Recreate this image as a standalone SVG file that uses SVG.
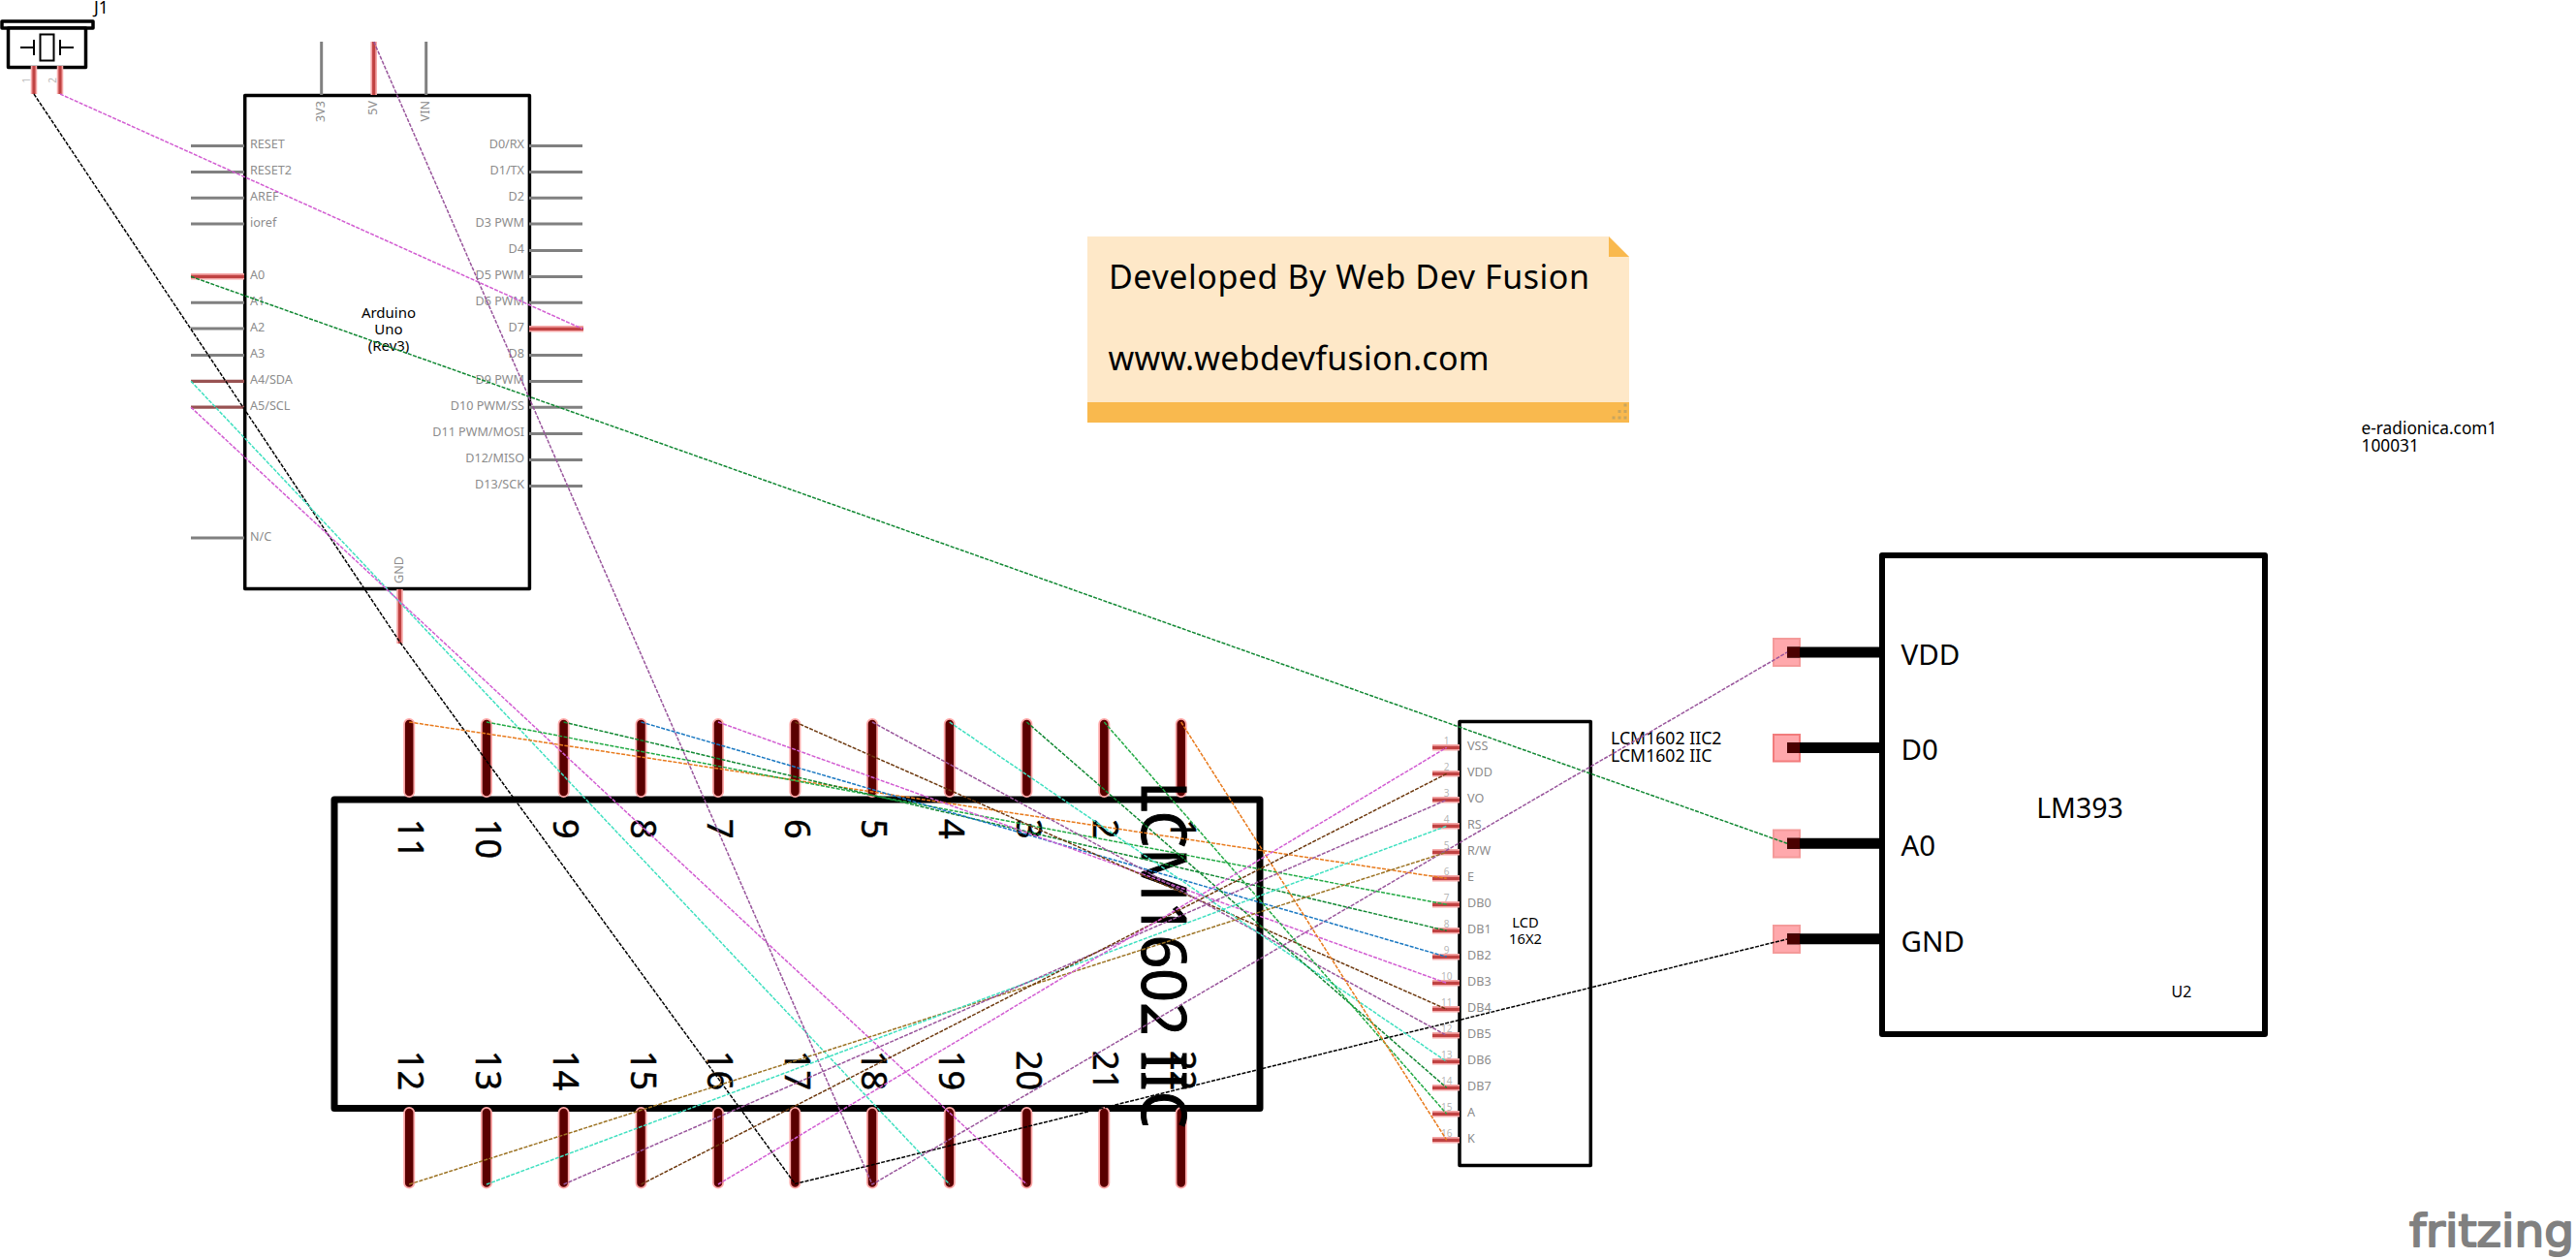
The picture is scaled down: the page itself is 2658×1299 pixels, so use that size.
<svg xmlns="http://www.w3.org/2000/svg" width="2658" height="1299" viewBox="0 0 2658 1299">
<style>
text{font-family:"Noto Sans","Open Sans","DejaVu Sans",sans-serif;fill:#000}
.box{fill:#fff;stroke:#000;stroke-linejoin:round}
.pg{stroke:#808080;stroke-width:3}
.ph{stroke:#f5a8a8;stroke-width:6.5}
.pr{stroke:#c04242;stroke-width:3.2}
.pd{stroke:#985252;stroke-width:3.2}
.iph{stroke:#ffa8a8;stroke-width:12;stroke-linecap:round}
.ipc{stroke:#5a0000;stroke-width:8.5;stroke-linecap:round}
.lbl{font-size:12.6px;fill:#8c8c8c}
.num{font-size:10px;fill:#b8b8b8;text-anchor:middle}
.pinlbl{font-size:36px;stroke:#000;stroke-width:.5}
.sm{font-size:17.7px}
.mid{text-anchor:middle}
.big{font-size:29.5px}
.sq{fill:#ffa8ac;stroke:#f49a9a;stroke-width:2}
.tm{stroke:#000;stroke-width:11}
.tmc{fill:#4a0000}
.w{fill:none;stroke-width:1.5;stroke-dasharray:4 1.4}
.mag{stroke:#d25dd2}.grn{stroke:#118833}.lgr{stroke:#22aa44}.blk{stroke:#000}.cyn{stroke:#3fe0c0}.pur{stroke:#99569c}.org{stroke:#e87a1c}.blu{stroke:#1a78c2}.brn{stroke:#6e3a10}.tan{stroke:#9c7324}
</style>
<g id="note">
<path d="M1122 244H1660L1681 265V436H1122Z" fill="#fee8c8"/>
<path d="M1660 244L1681 265H1660Z" fill="#f9b94e"/>
<rect x="1122" y="415" width="559" height="21" fill="#f9b94e"/>
<g fill="#c9a55d"><rect x="1675.500" y="416.500" width="3" height="3"/><rect x="1669.500" y="423" width="3" height="3"/><rect x="1675.500" y="423" width="3" height="3"/><rect x="1663.500" y="429.500" width="3" height="3"/><rect x="1669.500" y="429.500" width="3" height="3"/><rect x="1675.500" y="429.500" width="3" height="3"/></g>
<text x="1144" y="297.500" font-size="34" textLength="496" lengthAdjust="spacing">Developed By Web Dev Fusion</text>
<text x="1143.500" y="381.500" font-size="34" textLength="393" lengthAdjust="spacing">www.webdevfusion.com</text>
</g>
<g id="J1">
<rect x="2" y="22" width="94" height="7" class="box" stroke-width="3.500"/>
<rect x="8.500" y="29" width="80" height="40.500" class="box" stroke-width="3.500"/>
<rect x="41.500" y="35.500" width="14" height="27" fill="none" stroke="#000" stroke-width="2"/>
<path d="M21 49H35M35 41V57M62 41V57M62 49H76" fill="none" stroke="#000" stroke-width="2"/>
<path d="M35 68V97M62 68V97" class="ph"/><path d="M35 68V97M62 68V97" class="pr"/>
<text x="97" y="13.500" font-size="17.500">J1</text>
<text class="num" transform="translate(31 83) rotate(-90)">1</text>
<text class="num" transform="translate(58 83) rotate(-90)">2</text>
</g>
<g id="Arduino">
<rect x="252.700" y="98.500" width="293.700" height="509" class="box" stroke-width="3.500"/>
<path d="M197 150.500H252M197 177.400H252M197 204.200H252M197 231.100H252M197 312.200H252M197 339.100H252M197 366.400H252M197 555H252M546 150.500H601M546 177.400H601M546 204.200H601M546 231.100H601M546 258.500H601M546 285.500H601M546 312.300H601M546 366.400H601M546 393.400H601M546 420.200H601M546 447.400H601M546 474.500H601M546 501.500H601M331.700 43V98M439.700 43V98" class="pg"/>
<path d="M197 393.300H252M197 420.200H252" class="pd"/>
<path d="M197 285.300H252M546 339.300H602M385.700 43V98M412.500 608V664" class="ph"/>
<path d="M197 285.300H252M546 339.300H602M385.700 43V98M412.500 608V664" class="pr"/>
<g class="lbl">
<text class="lbl" x="258" y="153">RESET</text><text class="lbl" x="258" y="180">RESET2</text><text class="lbl" x="258" y="206.800">AREF</text><text class="lbl" x="258" y="233.700">ioref</text><text class="lbl" x="258" y="287.900">A0</text><text class="lbl" x="258" y="314.800">A1</text><text class="lbl" x="258" y="341.700">A2</text><text class="lbl" x="258" y="369">A3</text><text class="lbl" x="258" y="395.900">A4/SDA</text><text class="lbl" x="258" y="422.800">A5/SCL</text><text class="lbl" x="258" y="557.600">N/C</text>
<g text-anchor="end"><text class="lbl" x="541" y="153">D0/RX</text><text class="lbl" x="541" y="180">D1/TX</text><text class="lbl" x="541" y="206.800">D2</text><text class="lbl" x="541" y="233.700">D3 PWM</text><text class="lbl" x="541" y="261">D4</text><text class="lbl" x="541" y="288">D5 PWM</text><text class="lbl" x="541" y="314.900">D6 PWM</text><text class="lbl" x="541" y="341.900">D7</text><text class="lbl" x="541" y="369">D8</text><text class="lbl" x="541" y="396">D9 PWM</text><text class="lbl" x="541" y="422.800">D10 PWM/SS</text><text class="lbl" x="541" y="450">D11 PWM/MOSI</text><text class="lbl" x="541" y="477">D12/MISO</text><text class="lbl" x="541" y="504">D13/SCK</text></g>
<g text-anchor="end"><text class="lbl" transform="translate(335 104) rotate(-90)">3V3</text><text class="lbl" transform="translate(389 104) rotate(-90)">5V</text><text class="lbl" transform="translate(443 104) rotate(-90)">VIN</text></g>
<text class="lbl" transform="translate(416 602) rotate(-90)">GND</text>
</g>
<text class="mid" x="401" y="328" font-size="15">Arduino</text><text class="mid" x="401" y="345" font-size="15">Uno</text><text class="mid" x="401" y="362" font-size="15">(Rev3)</text>
</g>
<g id="LCM1602">
<rect x="345" y="825" width="955" height="318.500" class="box" stroke-width="7"/>
<path d="M422.200 747V817M502 747V817M581.600 747V817M661.500 747V817M741 747V817M820.400 747V817M900 747V817M979.800 747V817M1059.400 747V817M1139.300 747V817M1218.700 747V817M422.200 1148V1220.500M502 1148V1220.500M581.600 1148V1220.500M661.500 1148V1220.500M741 1148V1220.500M820.400 1148V1220.500M900 1148V1220.500M979.800 1148V1220.500M1059.400 1148V1220.500M1139.300 1148V1220.500M1218.700 1148V1220.500" class="iph"/>
<path d="M422.200 747V817M502 747V817M581.600 747V817M661.500 747V817M741 747V817M820.400 747V817M900 747V817M979.800 747V817M1059.400 747V817M1139.300 747V817M1218.700 747V817M422.200 1148V1220.500M502 1148V1220.500M581.600 1148V1220.500M661.500 1148V1220.500M741 1148V1220.500M820.400 1148V1220.500M900 1148V1220.500M979.800 1148V1220.500M1059.400 1148V1220.500M1139.300 1148V1220.500M1218.700 1148V1220.500" class="ipc"/>
<text class="pinlbl" transform="translate(411 845) rotate(90)">11</text><text class="pinlbl" transform="translate(491 845) rotate(90)">10</text><text class="pinlbl" transform="translate(571 845) rotate(90)">9</text><text class="pinlbl" transform="translate(651 845) rotate(90)">8</text><text class="pinlbl" transform="translate(730 845) rotate(90)">7</text><text class="pinlbl" transform="translate(810 845) rotate(90)">6</text><text class="pinlbl" transform="translate(889 845) rotate(90)">5</text><text class="pinlbl" transform="translate(969 845) rotate(90)">4</text><text class="pinlbl" transform="translate(1049 845) rotate(90)">3</text><text class="pinlbl" transform="translate(1128 845) rotate(90)">2</text><text class="pinlbl" transform="translate(1208 845) rotate(90)">1</text>
<text class="pinlbl" transform="translate(411 1084) rotate(90)">12</text><text class="pinlbl" transform="translate(491 1084) rotate(90)">13</text><text class="pinlbl" transform="translate(571 1084) rotate(90)">14</text><text class="pinlbl" transform="translate(651 1084) rotate(90)">15</text><text class="pinlbl" transform="translate(730 1084) rotate(90)">16</text><text class="pinlbl" transform="translate(810 1084) rotate(90)">17</text><text class="pinlbl" transform="translate(889 1084) rotate(90)">18</text><text class="pinlbl" transform="translate(969 1084) rotate(90)">19</text><text class="pinlbl" transform="translate(1049 1084) rotate(90)">20</text><text class="pinlbl" transform="translate(1128 1084) rotate(90)">21</text><text class="pinlbl" transform="translate(1208 1084) rotate(90)">22</text>
<text transform="translate(1178 806) rotate(90)" font-size="64" textLength="358" lengthAdjust="spacingAndGlyphs" stroke="#000" stroke-width="1">LCM1602 IIC</text>
</g>
<g id="LCD">
<rect x="1506" y="744.500" width="135.300" height="458" class="box" stroke-width="3.500"/>
<path d="M1478 771.300H1506M1478 798.300H1506M1478 825.300H1506M1478 852.300H1506M1478 879.300H1506M1478 906.300H1506M1478 933.300H1506M1478 960.300H1506M1478 987.300H1506M1478 1014.300H1506M1478 1041.300H1506M1478 1068.300H1506M1478 1095.300H1506M1478 1122.300H1506M1478 1149.300H1506M1478 1176.300H1506" class="ph"/>
<path d="M1478 771.300H1506M1478 798.300H1506M1478 825.300H1506M1478 852.300H1506M1478 879.300H1506M1478 906.300H1506M1478 933.300H1506M1478 960.300H1506M1478 987.300H1506M1478 1014.300H1506M1478 1041.300H1506M1478 1068.300H1506M1478 1095.300H1506M1478 1122.300H1506M1478 1149.300H1506M1478 1176.300H1506" class="pr"/>
<text class="lbl" x="1514" y="773.800">VSS</text><text class="lbl" x="1514" y="800.800">VDD</text><text class="lbl" x="1514" y="827.800">VO</text><text class="lbl" x="1514" y="854.800">RS</text><text class="lbl" x="1514" y="881.800">R/W</text><text class="lbl" x="1514" y="908.800">E</text><text class="lbl" x="1514" y="935.800">DB0</text><text class="lbl" x="1514" y="962.800">DB1</text><text class="lbl" x="1514" y="989.800">DB2</text><text class="lbl" x="1514" y="1016.800">DB3</text><text class="lbl" x="1514" y="1043.800">DB4</text><text class="lbl" x="1514" y="1070.800">DB5</text><text class="lbl" x="1514" y="1097.800">DB6</text><text class="lbl" x="1514" y="1124.800">DB7</text><text class="lbl" x="1514" y="1151.800">A</text><text class="lbl" x="1514" y="1178.800">K</text>
<text class="num" x="1492.700" y="768">1</text><text class="num" x="1492.700" y="795">2</text><text class="num" x="1492.700" y="822">3</text><text class="num" x="1492.700" y="849">4</text><text class="num" x="1492.700" y="876">5</text><text class="num" x="1492.700" y="903">6</text><text class="num" x="1492.700" y="930">7</text><text class="num" x="1492.700" y="957">8</text><text class="num" x="1492.700" y="984">9</text><text class="num" x="1492.700" y="1011">10</text><text class="num" x="1492.700" y="1038">11</text><text class="num" x="1492.700" y="1065">12</text><text class="num" x="1492.700" y="1092">13</text><text class="num" x="1492.700" y="1119">14</text><text class="num" x="1492.700" y="1146">15</text><text class="num" x="1492.700" y="1173">16</text>
<text class="mid" x="1574" y="957" font-size="14.700">LCD</text><text class="mid" x="1574" y="974" font-size="14.700">16X2</text>
<text class="sm" x="1662" y="767.500">LCM1602 IIC2</text><text class="sm" x="1662" y="786">LCM1602 IIC</text>
</g>
<g id="LM393">
<rect x="1942" y="573" width="395" height="494" class="box" stroke-width="6"/>
<rect x="1830" y="659" width="27" height="28" class="sq"/><rect x="1830" y="758" width="27" height="27.500" class="sq" style="stroke:#f27c7c"/><rect x="1830" y="856.500" width="27" height="28" class="sq"/><rect x="1830" y="955" width="27" height="28" class="sq"/>
<path d="M1844 673H1942M1844 771.600H1942M1844 870.200H1942M1844 968.800H1942" class="tm"/>
<rect x="1844" y="667.500" width="13" height="11" class="tmc"/><rect x="1844" y="766" width="13" height="11" class="tmc"/><rect x="1844" y="864.700" width="13" height="11" class="tmc"/><rect x="1844" y="963.300" width="13" height="11" class="tmc"/>
<text class="big" x="1961.500" y="685.500">VDD</text><text class="big" x="1961.500" y="784">D0</text><text class="big" x="1961.500" y="883">A0</text><text class="big" x="1961.500" y="982">GND</text>
<text x="2146" y="844" class="mid" font-size="28.500">LM393</text>
<text x="2240.500" y="1028.500" font-size="16">U2</text>
</g>
<g id="partlabel"><text x="2436.500" y="448" font-size="17.300">e-radionica.com1</text><text x="2436.500" y="466" font-size="17.300">100031</text></g>
<g id="logo"><text x="2486" y="1286" font-size="46" textLength="170" lengthAdjust="spacingAndGlyphs" stroke="#808080" stroke-width="2" stroke-linejoin="round" style="fill:#808080;font-family:'DejaVu Sans',sans-serif">fritzing</text></g>
<g id="connectors">
<path class="w blk" d="M35 97L413 663L820.400 1221.500L1844 969"/>
<path class="w mag" d="M62 97L601 339.300"/>
<path class="w grn" d="M197 285.300L1844 870.200"/>
<path class="w cyn" d="M197 393.300L979.800 1222"/>
<path class="w mag" d="M197 420.200L1059.400 1222"/>
<path class="w pur" d="M385.700 43L900 1222L1844 673"/>
<path class="w org" d="M422.200 745L1492.700 906.300"/>
<path class="w lgr" d="M502 745L1492.700 933.300"/>
<path class="w grn" d="M581.600 745L1492.700 960.300"/>
<path class="w blu" d="M661.500 745L1492.700 987.300"/>
<path class="w mag" d="M741 745L1492.700 1014.300"/>
<path class="w brn" d="M820.400 745L1492.700 1041.300"/>
<path class="w pur" d="M900 745L1492.700 1068.300"/>
<path class="w cyn" d="M979.800 745L1492.700 1095.300"/>
<path class="w grn" d="M1059.400 745L1492.700 1122.300"/>
<path class="w lgr" d="M1139.300 745L1492.700 1149.300"/>
<path class="w org" d="M1218.700 745L1492.700 1176.300"/>
<path class="w tan" d="M422.200 1222L1492.700 879.300"/>
<path class="w cyn" d="M502 1222L1492.700 852.300"/>
<path class="w pur" d="M581.600 1222L1492.700 825.300"/>
<path class="w brn" d="M661.500 1222L1492.700 798.300"/>
<path class="w mag" d="M741 1222L1492.700 771.300"/>
</g>
</svg>
